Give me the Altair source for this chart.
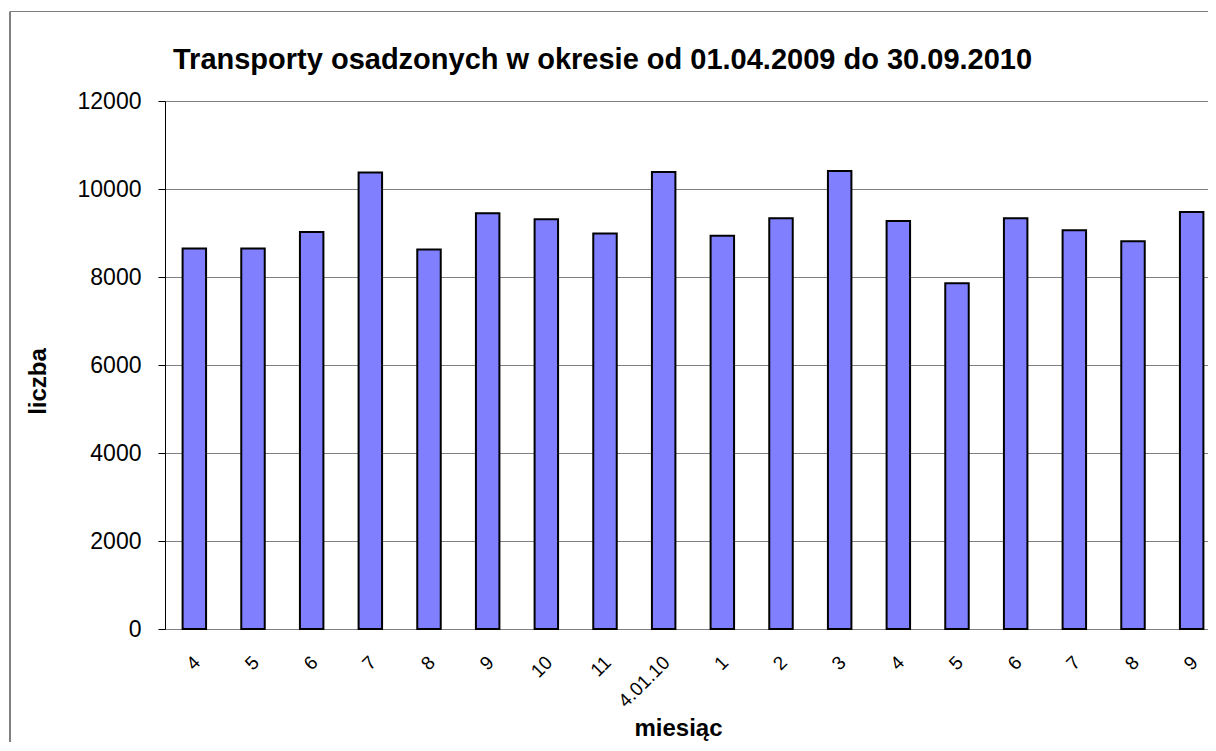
import altair as alt
import pandas as pd

# data
categories = ["2009-04", "2009-05", "2009-06", "2009-07", "2009-08", "2009-09",
              "2009-10", "2009-11", "2009-12", "2010-01", "2010-02", "2010-03",
              "2010-04", "2010-05", "2010-06", "2010-07", "2010-08", "2010-09"]
tick_labels = ["4", "5", "6", "7", "8", "9", "10", "11", "4.01.10",
               "1", "2", "3", "4", "5", "6", "7", "8", "9"]
values = [8645, 8645, 9023, 10373, 8623, 9448, 9311, 8986, 10387,
          8940, 9334, 10409, 9273, 7857, 9334, 9061, 8811, 9477]
y_ticks = [0, 2000, 4000, 6000, 8000, 10000, 12000]

title_text = "Transporty osadzonych w okresie od 01.04.2009 do 30.09.2010"
FONT = "Liberation Sans"

df = pd.DataFrame({"miesiac": categories, "liczba": values})

cat_js = "[" + ",".join("'%s'" % c for c in categories) + "]"
lab_js = "[" + ",".join("'%s'" % l for l in tick_labels) + "]"
label_expr = f"{lab_js}[indexof({cat_js}, datum.value)]"

W = 1043
H = 528

bars = alt.Chart(df).mark_bar(
    fill="#8080FF", stroke="#000000", strokeWidth=2
).encode(
    x=alt.X("miesiac:N", sort=categories,
            scale=alt.Scale(range=[0, 1056], paddingInner=0.6, paddingOuter=0.3),
            axis=alt.Axis(title="miesiąc", labelExpr=label_expr,
                          labelAngle=-45, labelAlign="right", labelBaseline="middle",
                          labelFontSize=19, labelFont=FONT, labelColor="#000000",
                          labelPadding=30, labelOffset=3, ticks=False,
                          domainColor="#808080", domainWidth=1,
                          titleFont=FONT, titleFontSize=24, titleFontWeight="bold",
                          titleColor="#000000", titleX=513, titleY=106,
                          titleAlign="center", titleBaseline="alphabetic",
                          labelOverlap=False)),
    y=alt.Y("liczba:Q",
            scale=alt.Scale(domain=[0, 12000], nice=False, zero=True),
            axis=alt.Axis(title="liczba", values=y_ticks, format="d",
                          labelFontSize=23, labelFont=FONT, labelColor="#000000",
                          labelPadding=17, tickSize=7, tickColor="#000000",
                          domainColor="#000000", gridColor="#808080", grid=True,
                          titleFont=FONT, titleFontSize=24, titleFontWeight="bold",
                          titleColor="#000000", titleX=-127, titleY=280,
                          titleAlign="center", titleBaseline="middle", titleAngle=270)),
)

frame_left = alt.Chart(pd.DataFrame({"a": [0]})).mark_rule(
    color="#000000", strokeWidth=1
).encode(x=alt.value(-155), y=alt.value(-89.5), y2=alt.value(H + 113))

frame_top = alt.Chart(pd.DataFrame({"a": [0]})).mark_rule(
    color="#808080", strokeWidth=1
).encode(x=alt.value(-155), x2=alt.value(W), y=alt.value(-89.5))

title = alt.Chart(pd.DataFrame({"t": [title_text]})).mark_text(
    align="left", baseline="alphabetic", fontSize=29, fontWeight="bold",
    font=FONT, color="#000000"
).encode(text="t:N", x=alt.value(8), y=alt.value(-32))

chart = alt.layer(frame_left, frame_top, bars, title).properties(
    width=W, height=H,
    autosize=alt.AutoSizeParams(type="none"),
    padding={"left": 157, "top": 93, "right": 0, "bottom": 113},
).configure_view(stroke=None).configure(background="#FFFFFF")

chart.save("out.html", embed_options={"renderer": "svg", "actions": False})
